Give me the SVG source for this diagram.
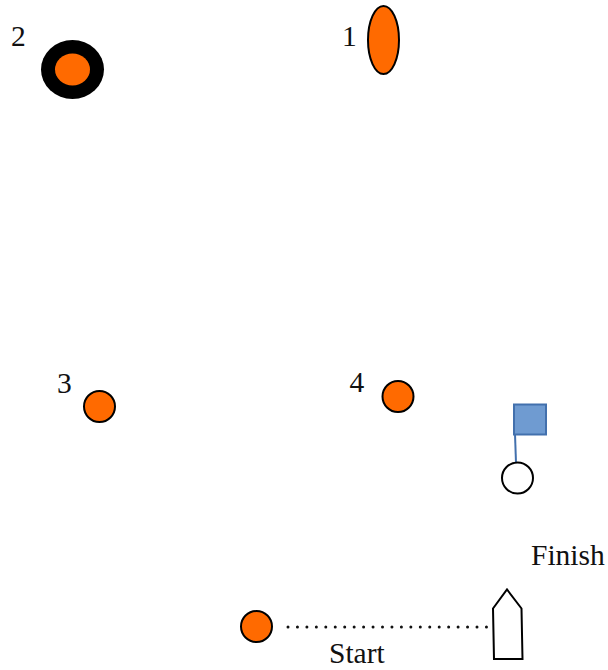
<svg xmlns="http://www.w3.org/2000/svg" width="608" height="670" viewBox="0 0 608 670">
<style>
text{font-family:"Liberation Serif","Times New Roman",serif;font-size:29.500px;fill:#111}
.buoy{fill:#ff6a00;stroke:#000;stroke-width:2}
</style>
<rect width="608" height="670" fill="#fff"/>
<g id="connectors">
<line x1="288" y1="627" x2="490" y2="627" stroke="#111" stroke-width="3" stroke-linecap="round" stroke-dasharray="0 9.45"/>
<line x1="515" y1="434" x2="516" y2="463" stroke="#4270ad" stroke-width="2"/>
</g>
<g id="mark-1"><ellipse class="buoy" cx="383.500" cy="40" rx="15.500" ry="34"/><text x="342" y="46">1</text></g>
<g id="mark-2"><ellipse cx="72.500" cy="69.500" rx="31.500" ry="29.500" fill="#000"/><ellipse cx="72.500" cy="69.500" rx="17.500" ry="16" fill="#ff6a00"/><text x="11" y="45.500">2</text></g>
<g id="mark-3"><circle class="buoy" cx="99.500" cy="406.500" r="15.500"/><text x="57" y="392.500">3</text></g>
<g id="mark-4"><circle class="buoy" cx="398" cy="396.500" r="15.500"/><text x="349.500" y="392">4</text></g>
<g id="finish-flag"><rect x="514" y="404.500" width="32" height="30" fill="#6f9bd1" stroke="#4270ad" stroke-width="2"/></g>
<g id="finish-buoy"><circle cx="517.500" cy="478" r="15.500" fill="#fff" stroke="#000" stroke-width="2"/></g>
<g id="finish-label"><text x="531" y="564.500">Finish</text></g>
<g id="start-buoy"><circle class="buoy" cx="256.500" cy="626.500" r="15.500"/></g>
<g id="start-label"><text x="329" y="662.500">Start</text></g>
<g id="boat"><path d="M493 608.500L507 589.500L521.500 608.500L522.500 659L494 659Z" fill="#fff" stroke="#000" stroke-width="2"/></g>
</svg>
